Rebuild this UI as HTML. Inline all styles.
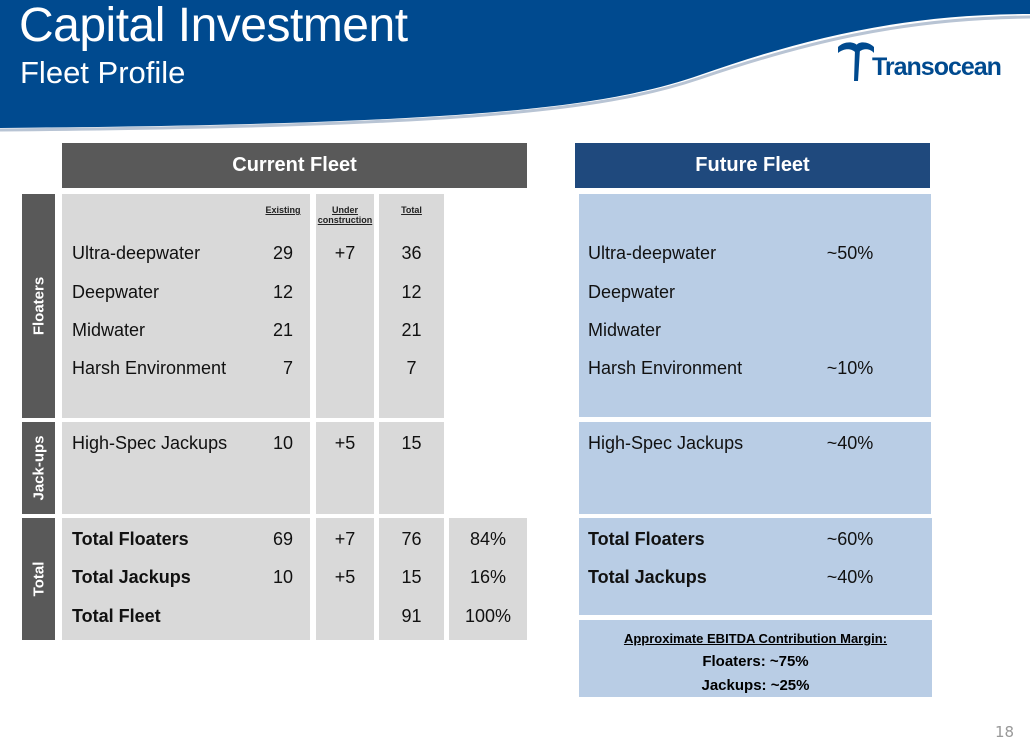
<!DOCTYPE html>
<html><head><meta charset="utf-8"><style>
body{margin:0;width:1030px;height:750px;position:relative;background:#fff;font-family:"Liberation Sans",Arial,sans-serif;overflow:hidden}
.a{position:absolute}
.box{position:absolute;background:#d9d9d9}
.fb{position:absolute;background:#b9cde5}
.side{position:absolute;background:#595959;left:22px;width:33px}
.side span{position:absolute;left:50%;top:50%;transform:translate(-50%,-50%) rotate(-90deg);color:#fff;font-weight:bold;font-size:15px;white-space:nowrap;font-family:"Liberation Sans",sans-serif}
.t{position:absolute;font-size:18px;line-height:20px;color:#111;white-space:nowrap}
.r{text-align:right}
.c{text-align:center}
.b{font-weight:bold}
.hd{position:absolute;font-size:9px;font-weight:bold;text-decoration:underline;text-align:center;line-height:10px;color:#222}
</style></head><body>
<svg class="a" style="left:0;top:0" width="1030" height="150">
<path d="M0,0 H1030 V14 C900,14 800,40 700,75 C600,110 450,124 0,128 Z" fill="#004a8f"/>
<path d="M0,130 C450,126 600,112 700,78 C800,44 900,18 1030,17" fill="none" stroke="#b8c4d4" stroke-width="3"/>
</svg>
<div class="a" style="left:19px;top:0px;font-size:48px;color:#fff;line-height:52px;letter-spacing:-0.5px">Capital Investment</div>
<div class="a" style="left:20px;top:55px;font-size:31px;color:#fff;line-height:36px">Fleet Profile</div>
<div class="a" style="left:836px;top:41px;width:185px;height:42px">
<svg width="40" height="42" style="position:absolute;left:0;top:0"><path d="M2,6 C8,0 18,0 22,5 L20,12 C16,7 8,7 2,12Z" fill="#004a8f"/><path d="M38,6 C32,0 22,0 20,5 L22,12 C26,7 34,7 38,12Z" fill="#004a8f"/><path d="M19,8 L24,8 L22,40 L18,40Z" fill="#004a8f"/></svg>
<span style="position:absolute;left:36px;top:12px;font-size:25px;font-weight:bold;color:#004a8f;letter-spacing:-1px">Transocean</span></div>

<div class="a c" style="left:62px;top:143px;width:465px;height:45px;background:#595959;color:#fff;font-weight:bold;font-size:20px;line-height:45px">Current Fleet</div>
<div class="a c" style="left:575px;top:143px;width:355px;height:45px;background:#1f497d;color:#fff;font-weight:bold;font-size:20px;line-height:45px">Future Fleet</div>

<div class="side" style="top:194px;height:224px"><span>Floaters</span></div>
<div class="side" style="top:422px;height:92px"><span>Jack-ups</span></div>
<div class="side" style="top:518px;height:122px"><span>Total</span></div>

<div class="box" style="left:62px;top:194px;width:248px;height:224px"></div>
<div class="box" style="left:316px;top:194px;width:58px;height:224px"></div>
<div class="box" style="left:379px;top:194px;width:65px;height:224px"></div>
<div class="box" style="left:62px;top:422px;width:248px;height:92px"></div>
<div class="box" style="left:316px;top:422px;width:58px;height:92px"></div>
<div class="box" style="left:379px;top:422px;width:65px;height:92px"></div>
<div class="box" style="left:62px;top:518px;width:248px;height:122px"></div>
<div class="box" style="left:316px;top:518px;width:58px;height:122px"></div>
<div class="box" style="left:379px;top:518px;width:65px;height:122px"></div>
<div class="box" style="left:449px;top:518px;width:78px;height:122px"></div>

<div class="hd" style="left:258px;top:205px;width:50px">Existing</div>
<div class="hd" style="left:316px;top:205px;width:58px">Under<br>construction</div>
<div class="hd" style="left:379px;top:205px;width:65px">Total</div>

<div class="fb" style="left:579px;top:194px;width:352px;height:223px"></div>
<div class="fb" style="left:579px;top:422px;width:352px;height:92px"></div>
<div class="fb" style="left:579px;top:518px;width:353px;height:97px"></div>
<div class="fb" style="left:579px;top:620px;width:353px;height:77px"></div>

<div id="rows"></div>

<div class="a c b" style="left:579px;top:631px;width:353px;font-size:13px;text-decoration:underline">Approximate EBITDA Contribution Margin:</div>
<div class="a c b" style="left:579px;top:653px;width:353px;font-size:15px">Floaters: ~75%</div>
<div class="a c b" style="left:579px;top:677px;width:353px;font-size:15px">Jackups: ~25%</div>
<div class="a" style="left:995px;top:723px;font-size:15px;color:#999;font-family:'DejaVu Sans',sans-serif">18</div>

<script>
const rowNames=["Ultra-deepwater","Deepwater","Midwater","Harsh Environment","High-Spec Jackups","Total Floaters","Total Jackups","Total Fleet"];
const rowY=[253,292,330,368,443,539,577,616];
const existing=["29","12","21","7","10","69","10",""];
const underCons=["+7","","","","+5","+7","+5",""];
const totals=["36","12","21","7","15","76","15","91"];
const pcts=["","","","","","84%","16%","100%"];
const futureNames=["Ultra-deepwater","Deepwater","Midwater","Harsh Environment","High-Spec Jackups","Total Floaters","Total Jackups",""];
const futurePct=["~50%","","","~10%","~40%","~60%","~40%",""];
const host=document.getElementById('rows');
function add(txt,left,top,w,cls,name){
  if(!txt)return;
  const d=document.createElement('div');
  d.className='t '+cls;
  d.style.left=left+'px';d.style.top=(top-10)+'px';d.style.width=w+'px';
  d.textContent=txt;
  
  
  host.appendChild(d);
}
rowNames.forEach((n,i)=>{
  const y=rowY[i];const bold=i>=5?' b':'';
  add(n,72,y,200,bold,'row-label');
  add(existing[i],250,y,43,'r','existing-value');
  add(underCons[i],316,y,58,'c','under-construction-value');
  add(totals[i],379,y,65,'c','total-value');
  add(pcts[i],449,y,78,'c','percent-value');
  add(futureNames[i],588,y,220,bold,'future-row-label');
  add(futurePct[i],800,y,100,'c','future-percent');
});
</script>
</body></html>
